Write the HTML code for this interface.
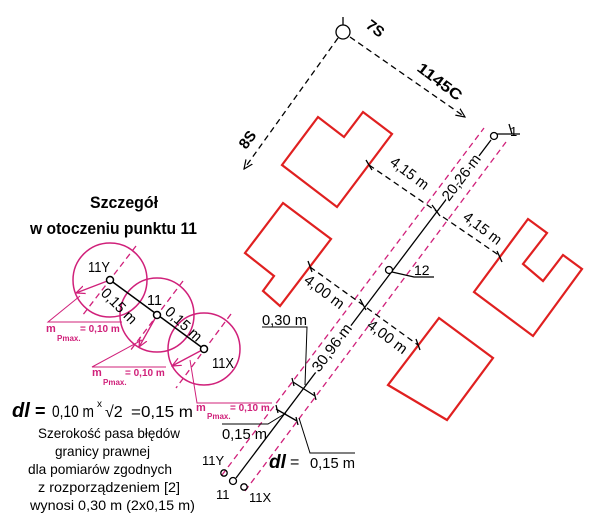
<!DOCTYPE html>
<html><head><meta charset="utf-8"><style>
html,body{margin:0;padding:0;background:#fff}
svg{display:block}
text{font-family:"Liberation Sans Narrow","Liberation Sans",sans-serif}
.w{paint-order:stroke;stroke:#fff;stroke-width:4px}
</style></head><body>
<svg width="600" height="528" viewBox="0 0 600 528" xmlns="http://www.w3.org/2000/svg">
<defs>
<marker id="ah" markerWidth="10" markerHeight="10" refX="9" refY="5" orient="auto" markerUnits="userSpaceOnUse"><path d="M0,1 L9,5 L0,9" fill="none" stroke="#000" stroke-width="1.2"/></marker>
<marker id="am" markerWidth="10" markerHeight="10" refX="9" refY="5" orient="auto" markerUnits="userSpaceOnUse"><path d="M0,1 L9,5 L0,9" fill="none" stroke="#d0207a" stroke-width="1.2"/></marker>
</defs>
<g fill="none" stroke="#e02020" stroke-width="2.2">
<polygon points="282,165 318,117 344,137 363,112 392,134 337,207"/>
<polygon points="283,203 331,239 280,306 263,291 274,276 245,253"/>
<polygon points="474,292 528,219 547,233 523,264 543,281 563,255 582,269 533,336"/>
<polygon points="439,318 493,358 447,420 388,385"/>
</g>
<g stroke="#d0207a" stroke-width="1.3" stroke-dasharray="6,4" fill="none">
<line x1="222" y1="475" x2="484" y2="128"/>
<line x1="245" y1="491" x2="506" y2="142"/>
</g>
<g stroke="#000" stroke-width="1.3" fill="none">
<line x1="236" y1="478" x2="491" y2="140"/>
<circle cx="494" cy="136" r="3.5" fill="#fff"/>
<line x1="497" y1="134" x2="520" y2="134"/>
<line x1="512" y1="134" x2="509" y2="124"/>
<circle cx="389" cy="270" r="3.5" fill="#fff"/>
<polyline points="392,272 414,277 434,277"/>
<circle cx="233" cy="481" r="3.5" fill="#fff"/>
<circle cx="224" cy="473" r="3.2"/>
<circle cx="244" cy="487" r="3.2"/>
<circle cx="343" cy="32" r="7" fill="#fff"/>
<line x1="343" y1="25" x2="343" y2="17"/>
</g>
<g stroke="#000" stroke-width="1.3" stroke-dasharray="6,4" fill="none">
<line x1="350" y1="37" x2="465" y2="117" marker-end="url(#ah)"/>
<line x1="338" y1="38" x2="244" y2="169" marker-end="url(#ah)"/>
<line x1="369" y1="165" x2="436" y2="211"/>
<line x1="443" y1="217" x2="500" y2="256"/>
<line x1="310" y1="267" x2="363" y2="305"/>
<line x1="367" y1="308" x2="418" y2="345"/>
</g>
<g stroke="#000" stroke-width="1.3">
<line x1="366" y1="160" x2="372" y2="170"/>
<line x1="432" y1="205" x2="440" y2="216"/>
<line x1="497" y1="251" x2="502" y2="262"/>
<line x1="308" y1="261" x2="312" y2="272"/>
<line x1="360" y1="299" x2="366" y2="310"/>
<line x1="416" y1="339" x2="420" y2="350"/>
<line x1="292" y1="378" x2="294" y2="386"/><line x1="314" y1="392" x2="316" y2="400"/>
<line x1="293" y1="382" x2="315" y2="396"/>
<line x1="276" y1="405" x2="278" y2="413"/><line x1="296" y1="417" x2="298" y2="425"/>
<line x1="276" y1="409" x2="297" y2="421"/>
</g>
<g stroke="#000" stroke-width="1" fill="none">
<polyline points="262,327 307,327 305,385"/>
<polyline points="222,424 268,424 286,413"/>
<polyline points="299,418 310,453 355,453"/>
</g>
<g fill="#000" font-size="15">
<text x="365" y="27" font-weight="bold" transform="rotate(37 365 27)">7S</text>
<text x="416" y="70" font-weight="bold" transform="rotate(37 416 70)" textLength="52" lengthAdjust="spacingAndGlyphs">1145C</text>
<text x="246" y="150" font-weight="bold" transform="rotate(-53 246 150)">8S</text>
<text x="510" y="136" font-size="13">1</text>
<text x="414" y="275" font-size="14">12</text>
<text x="389" y="164" transform="rotate(37 389 164)" textLength="44" lengthAdjust="spacingAndGlyphs">4,15 m</text>
<text x="462" y="219" transform="rotate(37 462 219)" textLength="44" lengthAdjust="spacingAndGlyphs">4,15 m</text>
<text x="303" y="282" transform="rotate(37 303 282)" textLength="46" lengthAdjust="spacingAndGlyphs">4,00 m</text>
<text x="366" y="327" transform="rotate(37 366 327)" textLength="46" lengthAdjust="spacingAndGlyphs">4,00 m</text>
<text class="w" x="449" y="202" transform="rotate(-53 449 202)" textLength="54" lengthAdjust="spacingAndGlyphs">20,26 m</text>
<text class="w" x="319" y="373" transform="rotate(-53 319 373)" textLength="56" lengthAdjust="spacingAndGlyphs">30,96 m</text>
<text x="262" y="325" textLength="45" lengthAdjust="spacingAndGlyphs">0,30 m</text>
<text x="222" y="439" textLength="45" lengthAdjust="spacingAndGlyphs">0,15 m</text>
<text x="269" y="468" font-size="19" font-weight="bold" font-style="italic">dl</text>
<text x="290" y="467" font-size="16">=</text>
<text x="310" y="468" textLength="45" lengthAdjust="spacingAndGlyphs">0,15 m</text>
<text x="202" y="465" font-size="13">11Y</text>
<text x="216" y="499" font-size="13">11</text>
<text x="249" y="502" font-size="13">11X</text>
</g>
<text x="90" y="208" font-size="17" font-weight="bold" textLength="68" lengthAdjust="spacingAndGlyphs">Szczegół</text>
<text x="30" y="234" font-size="17" font-weight="bold" textLength="167" lengthAdjust="spacingAndGlyphs">w otoczeniu punktu 11</text>
<g fill="none" stroke="#d0207a" stroke-width="1.5">
<circle cx="110" cy="280" r="37"/>
<circle cx="157" cy="315" r="37"/>
<circle cx="204" cy="349" r="36"/>
</g>
<g stroke="#d0207a" stroke-width="1.3" stroke-dasharray="6,4" fill="none">
<line x1="136" y1="246" x2="82" y2="316"/>
<line x1="183" y1="281" x2="130" y2="351"/>
<line x1="231" y1="314" x2="176" y2="388"/>
</g>
<g stroke="#d0207a" stroke-width="1.3" fill="none">
<line x1="110" y1="280" x2="76" y2="293" marker-end="url(#am)"/>
<line x1="157" y1="315" x2="139" y2="347" marker-end="url(#am)"/>
<line x1="204" y1="349" x2="172" y2="366" marker-end="url(#am)"/>
<polyline points="80,296 48,322 122,322" stroke-width="1"/>
<polyline points="142,340 92,367 166,367" stroke-width="1"/>
<polyline points="190,360 197,403 272,403" stroke-width="1"/>
</g>
<g stroke="#000" stroke-width="1.5">
<line x1="110" y1="280" x2="204" y2="349"/>
<circle cx="110" cy="280" r="3.5" fill="#fff"/>
<circle cx="157" cy="315" r="3.5" fill="#fff"/>
<circle cx="204" cy="349" r="3.5" fill="#fff"/>
</g>
<g fill="#000" font-size="15">
<text x="88" y="272" textLength="22" lengthAdjust="spacingAndGlyphs">11Y</text>
<text x="147" y="305" textLength="15" lengthAdjust="spacingAndGlyphs">11</text>
<text x="212" y="368" textLength="22" lengthAdjust="spacingAndGlyphs">11X</text>
<text x="100" y="294" transform="rotate(45 100 294)" textLength="44" lengthAdjust="spacingAndGlyphs">0,15 m</text>
<text x="164" y="313" transform="rotate(42 164 313)" textLength="44" lengthAdjust="spacingAndGlyphs">0,15 m</text>
</g>
<g fill="#d0207a" font-weight="bold">
<text x="46" y="332" font-size="11">m</text><text x="57" y="341" font-size="8">Pmax.</text><text x="80" y="332" font-size="10">= 0,10 m</text>
<text x="92" y="376" font-size="11">m</text><text x="103" y="385" font-size="8">Pmax.</text><text x="125" y="376" font-size="10">= 0,10 m</text>
<text x="196" y="411" font-size="11">m</text><text x="207" y="419" font-size="8">Pmax.</text><text x="230" y="411" font-size="10">= 0,10 m</text>
</g>
<g fill="#000">
<text x="12" y="417" font-size="20" font-weight="bold" font-style="italic">dl</text>
<text x="35" y="417" font-size="18" font-weight="bold">=</text>
<text x="52" y="417" font-size="17" textLength="42" lengthAdjust="spacingAndGlyphs">0,10 m</text>
<text x="97" y="407" font-size="10">x</text>
<text x="105" y="417" font-size="16">√2</text>
<text x="131" y="417" font-size="16" textLength="62" lengthAdjust="spacingAndGlyphs">=0,15 m</text>
<g font-size="14">
<text x="38" y="438" textLength="142" lengthAdjust="spacingAndGlyphs">Szerokość pasa błędów</text>
<text x="55" y="456" textLength="95" lengthAdjust="spacingAndGlyphs">granicy prawnej</text>
<text x="28" y="474" textLength="144" lengthAdjust="spacingAndGlyphs">dla pomiarów zgodnych</text>
<text x="38" y="492" textLength="142" lengthAdjust="spacingAndGlyphs">z rozporządzeniem [2]</text>
<text x="30" y="510" textLength="165" lengthAdjust="spacingAndGlyphs">wynosi 0,30 m (2x0,15 m)</text>
</g>
</g>
</svg>
</body></html>
